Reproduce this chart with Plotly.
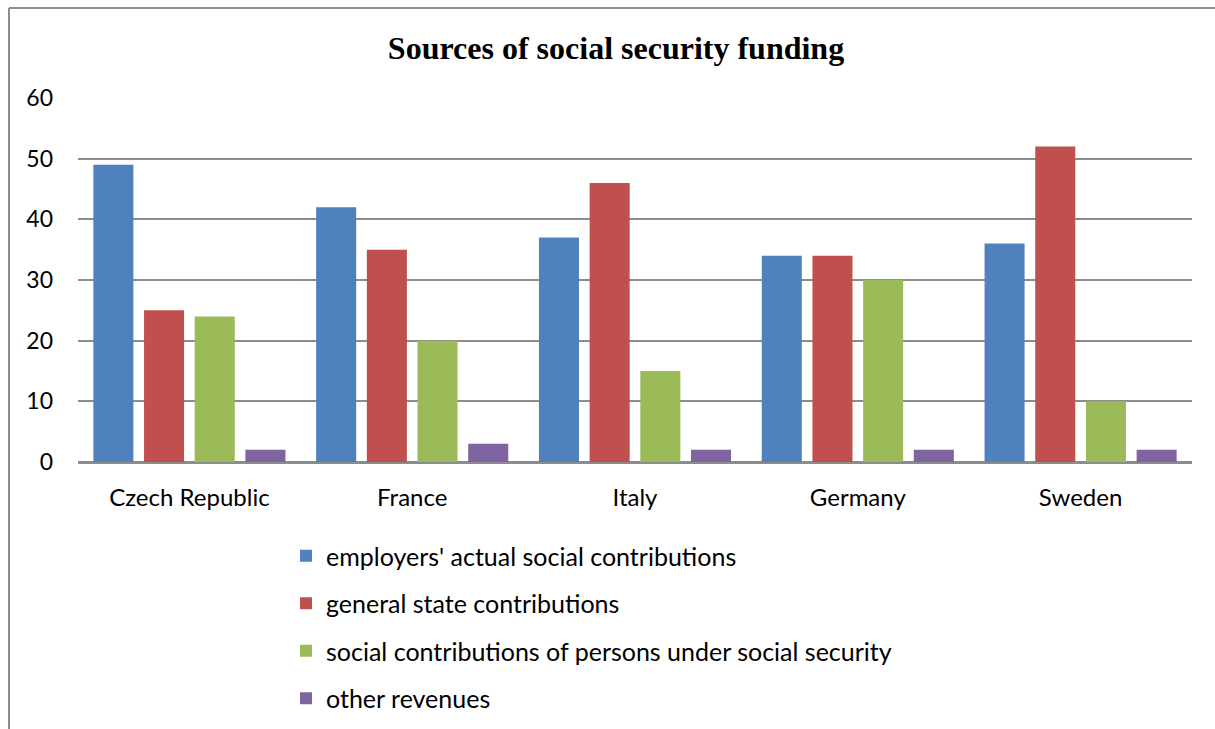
import plotly.graph_objects as go

countries = ["Czech Republic", "France", "Italy", "Germany", "Sweden"]
employers = [49, 42, 37, 34, 36]
state = [25, 35, 46, 34, 52]
persons = [24, 20, 15, 30, 10]
other = [2, 3, 2, 2, 2]

series_names = [
    "employers' actual social contributions",
    "general state contributions",
    "social contributions of persons under social security",
    "other revenues",
]
series_values = [employers, state, persons, other]
colors = ["#4F81BD", "#C0504D", "#9BBB59", "#8064A2"]

W, H = 1215, 729
L, R, T, B = 78, 23, 98, 267
pw, ph = W - L - R, H - T - B

fig = go.Figure()
for i, (name, vals, col) in enumerate(zip(series_names, series_values, colors)):
    fig.add_trace(go.Bar(
        x=countries, y=vals, name=name, marker_color=col,
        marker_line_width=0, legendgroup=f"g{i}",
    ))

def px2x(px):
    return (px - L) / pw

def py2y(py):
    return 1 - (py - T) / ph

fig.update_layout(
    width=W, height=H,
    margin=dict(l=L, r=R, t=T, b=B, autoexpand=False),
    paper_bgcolor="white", plot_bgcolor="white",
    barmode="group", bargap=0.09, bargroupgap=0.21,
    title=dict(text="<b>Sources of social security funding</b>",
               font=dict(family="Liberation Serif", size=32, color="black"),
               x=0.507, xanchor="center", y=1 - 48 / H, yanchor="middle"),
    font=dict(family="Lato", size=24, color="black"),
    xaxis=dict(showline=False, ticks="", ticklabelstandoff=19,
               tickfont=dict(size=24)),
    yaxis=dict(range=[0, 60], dtick=10, showgrid=True, gridcolor="#8C8C8C",
               gridwidth=1.5, zeroline=True, zerolinecolor="#8C8C8C",
               zerolinewidth=2.5, ticks="", ticklabelstandoff=24,
               tickfont=dict(size=23)),
    legend=dict(orientation="v", x=px2x(286), xanchor="left",
                y=py2y(533), yanchor="top", tracegroupgap=12,
                font=dict(size=25), bgcolor="rgba(0,0,0,0)"),
    showlegend=True,
    shapes=[
        dict(type="line", xref="paper", yref="paper",
             x0=px2x(9), x1=px2x(9), y0=py2y(8), y1=py2y(H + 5),
             line=dict(color="#8C8C8C", width=2)),
        dict(type="line", xref="paper", yref="paper",
             x0=px2x(9), x1=px2x(W + 5), y0=py2y(8), y1=py2y(8),
             line=dict(color="#8C8C8C", width=2)),
    ],
)

fig.write_html("out.html")
